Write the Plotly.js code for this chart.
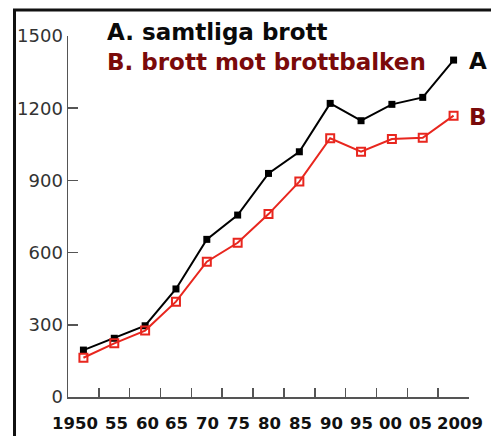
<!DOCTYPE html>
<html>
<head>
<meta charset="utf-8">
<script src="https://cdn.plot.ly/plotly-3.0.1.min.js"></script>
<style>html,body{margin:0;padding:0;background:#fff;}#chart{width:491px;height:436px;}</style>
</head>
<body>
<div id="chart"></div>
<script>
const years = ["1950","55","60","65","70","75","80","85","90","95","00","05","2009"];
const samtligaBrott = [195, 244, 296, 449, 655, 756, 929, 1019, 1220, 1148, 1216, 1245, 1400];
const brottbalken = [163, 223, 276, 396, 562, 641, 760, 895, 1075, 1019, 1072, 1077, 1169];
const yTicks = [0, 300, 600, 900, 1200, 1500];

const traces = [
  {
    x: years, y: samtligaBrott, type: 'scatter', mode: 'lines+markers',
    line: {color: '#000000', width: 2},
    marker: {symbol: 'square', size: 7, color: '#000000'},
    cliponaxis: false, hoverinfo: 'x+y'
  },
  {
    x: years, y: brottbalken, type: 'scatter', mode: 'lines+markers',
    line: {color: '#e8261e', width: 2},
    marker: {symbol: 'square-open', size: 8, color: '#e8261e', line: {width: 2, color: '#e8261e'}},
    cliponaxis: false, hoverinfo: 'x+y'
  }
];

const labelFont = {family: 'DejaVu Sans, sans-serif', size: 16.5, color: '#111111', weight: 'bold'};
const labelShift = [-8, 2, 2, 1, 1, 1, 1, 1, 1, 0, -1, -2, 6];
// category labels placed at each category's index on the category axis
const yearLabels = years.map((yr, i) => ({
  xref: 'x', yref: 'paper', x: i, y: -0.042, xanchor: 'center', yanchor: 'top',
  showarrow: false, text: yr, font: labelFont, xshift: labelShift[i]
}));

const layout = {
  width: 491, height: 436,
  margin: {l: 68, r: 22, t: 36, b: 39, pad: 0},
  paper_bgcolor: '#ffffff', plot_bgcolor: '#ffffff',
  showlegend: false,
  font: {family: 'DejaVu Sans, sans-serif', color: '#333333'},
  xaxis: {
    type: 'category', range: [-0.5, 12.5], tickson: 'boundaries',
    ticks: 'inside', ticklen: 9, tickwidth: 1.5, tickcolor: '#555555',
    showline: true, linecolor: '#555555', linewidth: 1.5,
    showgrid: false, zeroline: false, fixedrange: true,
    showticklabels: false
  },
  yaxis: {
    range: [0, 1500], tickvals: yTicks, ticktext: yTicks.map(String),
    ticks: 'inside', ticklen: 10, tickwidth: 1.5, tickcolor: '#555555',
    showline: true, linecolor: '#555555', linewidth: 1.5,
    showgrid: false, zeroline: false, fixedrange: true,
    tickfont: {family: 'DejaVu Sans, sans-serif', size: 18, color: '#333333'}
  },
  shapes: [
    {type: 'rect', xref: 'paper', yref: 'paper', x0: -0.1334, x1: 1.2, y0: -0.3, y1: 1.072,
     line: {color: '#111111', width: 3}, fillcolor: 'rgba(0,0,0,0)', layer: 'above'}
  ],
  annotations: [
    {xref: 'paper', yref: 'paper', x: 0.092, y: 1.011, xanchor: 'left', yanchor: 'middle', showarrow: false,
     text: 'A. samtliga brott', font: {family: 'DejaVu Sans, sans-serif', size: 23, color: '#0a0a0a', weight: 'bold'}},
    {xref: 'paper', yref: 'paper', x: 0.092, y: 0.928, xanchor: 'left', yanchor: 'middle', showarrow: false,
     text: 'B. brott mot brottbalken', font: {family: 'DejaVu Sans, sans-serif', size: 23, color: '#7a0a0a', weight: 'bold'}},
    {xref: 'paper', yref: 'paper', x: 0.995, y: 0.931, xanchor: 'left', yanchor: 'middle', showarrow: false,
     text: 'A', font: {family: 'DejaVu Sans, sans-serif', size: 23, color: '#0a0a0a', weight: 'bold'}},
    {xref: 'paper', yref: 'paper', x: 0.995, y: 0.777, xanchor: 'left', yanchor: 'middle', showarrow: false,
     text: 'B', font: {family: 'DejaVu Sans, sans-serif', size: 23, color: '#7a0a0a', weight: 'bold'}}
  ].concat(yearLabels)
};

Plotly.newPlot('chart', traces, layout, {displayModeBar: false, staticPlot: true});
</script>
</body>
</html>
